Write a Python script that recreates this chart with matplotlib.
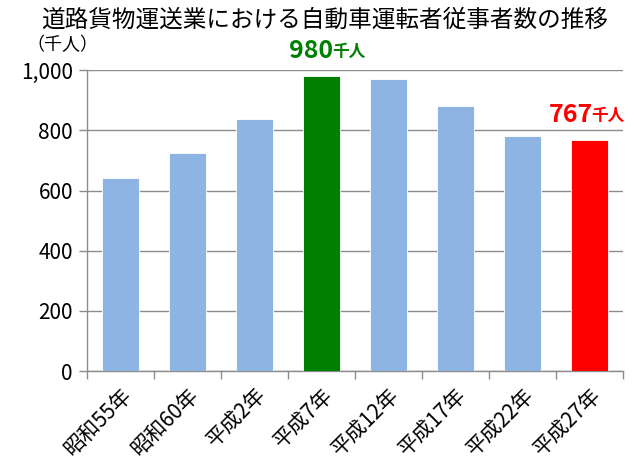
import numpy as np
import matplotlib.pyplot as plt
from matplotlib.ticker import FuncFormatter, FixedLocator

plt.rcParams['font.family'] = ['Noto Sans CJK JP', 'DejaVu Sans']

# 道路貨物運送業の自動車運転者従事者数（千人）
years = ['昭和55年', '昭和60年', '平成2年', '平成7年',
         '平成12年', '平成17年', '平成22年', '平成27年']
drivers = [643, 724, 837, 980, 972, 880, 782, 767]
peak_idx = 3     # 平成7年
latest_idx = 7   # 平成27年

colors = ['#8EB4E3'] * len(years)
colors[peak_idx] = '#008000'
colors[latest_idx] = '#FF0000'

fig = plt.figure(figsize=(6.34, 4.71), dpi=100)
ax = fig.add_axes([0.137, 0.212, 0.846, 0.639])

x = np.arange(len(years))
ax.bar(x, drivers, width=0.55, color=colors, edgecolor='white',
       linewidth=0.6, zorder=3)

### axis limits and grid
ax.set_xlim(-0.5, len(years) - 0.5)
ax.set_ylim(0, 1000)
ax.set_yticks(np.arange(0, 1001, 200))
ax.yaxis.set_major_formatter(FuncFormatter(lambda v, p: '{:,.0f}'.format(v)))
ax.grid(axis='y', color='#8c8c8c', linewidth=1.0, zorder=0)

for side in ['top', 'right']:
    ax.spines[side].set_visible(False)
for side in ['left', 'bottom']:
    ax.spines[side].set_color('#8c8c8c')
    ax.spines[side].set_linewidth(1.0)

### category labels, ticks between categories
ax.set_xticks(x)
ax.set_xticklabels(years, rotation=45, ha='right', va='top',
                   rotation_mode='anchor', fontsize=15)
ax.tick_params(axis='x', which='major', length=0, pad=9)
ax.xaxis.set_minor_locator(FixedLocator(np.arange(-0.5, len(years), 1)))
ax.tick_params(axis='x', which='minor', length=6, width=1.0, color='#8c8c8c')
ax.tick_params(axis='y', length=6, width=1.0, color='#8c8c8c',
               labelsize=15, pad=4)

### title and unit
fig.text(0.512, 0.958, '道路貨物運送業における自動車運転者従事者数の推移',
         ha='center', va='center', fontsize=17)
fig.text(0.098, 0.905, '（千人）', ha='center', va='center', fontsize=13)

### value callouts
for idx, col, dx, dy in [(peak_idx, '#008000', 12, 13),
                         (latest_idx, '#FF0000', 3, 13)]:
    ax.annotate('{:d}'.format(drivers[idx]), xy=(idx, drivers[idx]),
                xytext=(dx, dy), textcoords='offset pixels',
                ha='right', va='bottom', fontsize=18, fontweight='bold',
                color=col, annotation_clip=False)
    ax.annotate('千人', xy=(idx, drivers[idx]),
                xytext=(dx - 1, dy + 2), textcoords='offset pixels',
                ha='left', va='bottom', fontsize=12, fontweight='bold',
                color=col, annotation_clip=False)

fig.savefig('out.png', dpi=100)
